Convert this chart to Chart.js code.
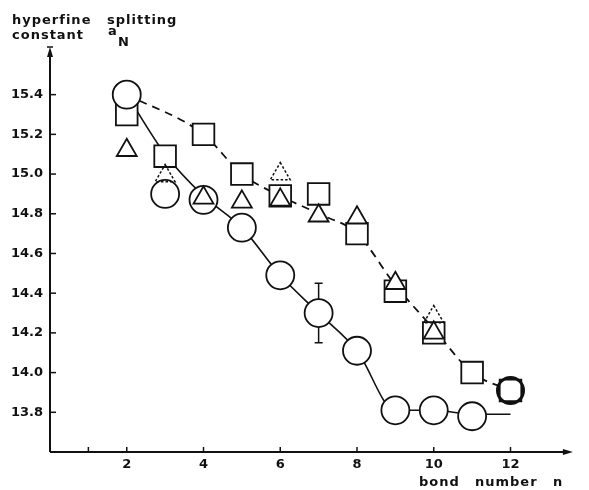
<!DOCTYPE html>
<html>
<head>
<meta charset="utf-8">
<script src="https://cdn.jsdelivr.net/npm/chart.js@4.4.1/dist/chart.umd.min.js"></script>
<style>
  html, body { margin: 0; padding: 0; background: #fff; }
  #wrap { width: 589px; height: 490px; position: relative; }
</style>
</head>
<body>
<div id="wrap"><canvas id="c" width="589" height="490"></canvas></div>
<script>
// data (bond number n vs hyperfine splitting constant a_N)
const nCircle = [2, 3, 4, 5, 6, 7, 8, 9, 10, 11];
const aCircle = [15.40, 14.90, 14.87, 14.73, 14.49, 14.30, 14.11, 13.81, 13.81, 13.78];

const nSquare = [2, 3, 4, 5, 6, 7, 8, 9, 10, 11, 12];
const aSquare = [15.30, 15.09, 15.20, 15.00, 14.89, 14.90, 14.70, 14.41, 14.20, 14.00, 13.91];

const nTriangle = [2, 4, 5, 6, 7, 8, 9, 10];
const aTriangle = [15.12, 14.88, 14.86, 14.87, 14.79, 14.78, 14.45, 14.20];

// dotted triangles
const nTriDot = [3, 6, 10];
const aTriDot = [14.99, 15.00, 14.28];

// heavy ring at n = 12
const nRing = [12];
const aRing = [13.91];

// drawn curves
const nSolidFit = [2, 3, 4, 5, 6, 7, 8, 9, 10, 11, 12];
const aSolidFit = [15.40, 15.10, 14.89, 14.73, 14.49, 14.30, 14.11, 13.81, 13.81, 13.79, 13.79];
const nDashFit = [2, 4, 5, 6, 7, 8, 9, 10, 11, 12];
const aDashFit = [15.40, 15.20, 15.00, 14.89, 14.80, 14.70, 14.44, 14.22, 14.00, 13.91];

// error bar on the n = 7 circle
const nErr = [7];
const errLow = [14.15];
const errHigh = [14.45];

const yTicks = [13.8, 14.0, 14.2, 14.4, 14.6, 14.8, 15.0, 15.2, 15.4];
const xTicks = [1, 2, 4, 6, 8, 10, 12];

const pts = (xs, ys) => xs.map((x, i) => ({ x: x, y: ys[i] }));
const INK = '#111';
const FONT = 'DejaVu Sans';

// axes with inward ticks, arrows, error bar, and the axis titles
const axesPlugin = {
  id: 'axes',
  beforeDatasetsDraw(chart) {
    const ctx = chart.ctx;
    const xs = chart.scales.x, ys = chart.scales.y;
    const x0 = xs.left, y0 = ys.bottom;
    ctx.save();
    ctx.strokeStyle = INK;
    ctx.fillStyle = INK;
    ctx.lineWidth = 2;
    // y axis
    ctx.beginPath();
    ctx.moveTo(x0, y0);
    ctx.lineTo(x0, ys.top + 4);
    ctx.stroke();
    ctx.beginPath();
    ctx.moveTo(x0, ys.top);
    ctx.lineTo(x0 - 3, ys.top + 10);
    ctx.lineTo(x0 + 3, ys.top + 10);
    ctx.closePath();
    ctx.fill();
    ctx.lineWidth = 1.5;
    ctx.beginPath();
    ctx.moveTo(x0 - 3, ys.top);
    ctx.lineTo(x0 + 3, ys.top);
    ctx.stroke();
    // x axis
    ctx.lineWidth = 2;
    ctx.beginPath();
    ctx.moveTo(x0, y0);
    ctx.lineTo(xs.right - 4, y0);
    ctx.stroke();
    ctx.beginPath();
    ctx.moveTo(xs.right + 1, y0);
    ctx.lineTo(xs.right - 9, y0 - 3);
    ctx.lineTo(xs.right - 9, y0 + 3);
    ctx.closePath();
    ctx.fill();
    // tick marks
    ctx.lineWidth = 1.5;
    yTicks.forEach(v => {
      const py = ys.getPixelForValue(v);
      ctx.beginPath();
      ctx.moveTo(x0, py);
      ctx.lineTo(x0 + 6, py);
      ctx.stroke();
    });
    xTicks.forEach(v => {
      const px = xs.getPixelForValue(v);
      ctx.beginPath();
      ctx.moveTo(px, y0);
      ctx.lineTo(px, y0 - 5);
      ctx.stroke();
    });
    // error bar
    ctx.lineWidth = 1.5;
    nErr.forEach((n, i) => {
      const px = xs.getPixelForValue(n);
      const pLo = ys.getPixelForValue(errLow[i]);
      const pHi = ys.getPixelForValue(errHigh[i]);
      ctx.beginPath();
      ctx.moveTo(px, pLo); ctx.lineTo(px, pHi);
      ctx.moveTo(px - 4, pLo); ctx.lineTo(px + 4, pLo);
      ctx.moveTo(px - 4, pHi); ctx.lineTo(px + 4, pHi);
      ctx.stroke();
    });
    // titles
    ctx.font = 'bold 13px "' + FONT + '"';
    ctx.letterSpacing = '1px';
    ctx.textAlign = 'left';
    ctx.textBaseline = 'alphabetic';
    ctx.fillText('hyperfine', 12, 24);
    ctx.fillText('splitting', 107, 24);
    ctx.fillText('constant', 12, 39);
    ctx.fillText('a', 108, 35);
    ctx.fillText('N', 118, 46);
    ctx.fillText('bond', 419, 486);
    ctx.fillText('number', 475, 486);
    ctx.fillText('n', 553, 486);
    ctx.restore();
  },
  beforeDatasetDraw(chart, args) {
    if (chart.data.datasets[args.index].dotted) {
      chart.ctx.save();
      chart.ctx.setLineDash([2.5, 2]);
    }
  },
  afterDatasetDraw(chart, args) {
    if (chart.data.datasets[args.index].dotted) chart.ctx.restore();
  }
};

const noLine = { showLine: false, borderColor: INK, clip: false };

new Chart(document.getElementById('c'), {
  type: 'scatter',
  data: {
    datasets: [
      Object.assign({ label: 'dotted triangles', data: pts(nTriDot, aTriDot), pointStyle: 'triangle',
        pointRadius: 11.5, pointBorderWidth: 1.5, backgroundColor: 'rgba(0,0,0,0)', dotted: true, order: 0 }, noLine),
      Object.assign({ label: 'ring', data: pts(nRing, aRing), pointStyle: 'circle',
        pointRadius: 13, pointBorderWidth: 3, backgroundColor: 'rgba(0,0,0,0)', order: 1 }, noLine),
      Object.assign({ label: 'triangles', data: pts(nTriangle, aTriangle), pointStyle: 'triangle',
        pointRadius: 11.5, pointBorderWidth: 1.8, backgroundColor: '#fff', order: 2 }, noLine),
      Object.assign({ label: 'circles', data: pts(nCircle, aCircle), pointStyle: 'circle',
        pointRadius: 14, pointBorderWidth: 1.8, backgroundColor: '#fff', order: 3 }, noLine),
      Object.assign({ label: 'squares', data: pts(nSquare, aSquare), pointStyle: 'rect',
        pointRadius: 15.3, pointBorderWidth: 1.8, backgroundColor: '#fff', order: 4 }, noLine),
      { label: 'solid fit', data: pts(nSolidFit, aSolidFit), showLine: true, pointRadius: 0,
        borderColor: INK, borderWidth: 1.6, cubicInterpolationMode: 'monotone', order: 5, clip: false },
      { label: 'dashed fit', data: pts(nDashFit, aDashFit), showLine: true, pointRadius: 0,
        borderColor: INK, borderWidth: 1.8, borderDash: [8, 6], cubicInterpolationMode: 'monotone', order: 6, clip: false }
    ]
  },
  options: {
    responsive: false,
    animation: false,
    events: [],
    layout: { padding: { top: 47, right: 2, left: 0, bottom: 0 } },
    plugins: { legend: { display: false }, tooltip: { enabled: false } },
    scales: {
      x: {
        type: 'linear', min: 0, max: 13.6,
        grid: { display: false, drawTicks: false },
        border: { display: false },
        afterBuildTicks: s => { s.ticks = xTicks.map(v => ({ value: v })); },
        afterFit: s => { s.height = 38; },
        ticks: {
          color: INK, padding: 5,
          font: { family: FONT, size: 13, weight: 'bold' },
          callback: v => (v >= 2 ? String(v) : '')
        }
      },
      y: {
        type: 'linear', min: 13.6, max: 15.64,
        grid: { display: false, drawTicks: false },
        border: { display: false },
        afterBuildTicks: s => { s.ticks = yTicks.map(v => ({ value: v })); },
        afterFit: s => { s.width = 50; },
        ticks: {
          color: INK, padding: 7,
          font: { family: FONT, size: 13, weight: 'bold' },
          callback: v => v.toFixed(1)
        }
      }
    }
  },
  plugins: [axesPlugin]
});
</script>
</body>
</html>
